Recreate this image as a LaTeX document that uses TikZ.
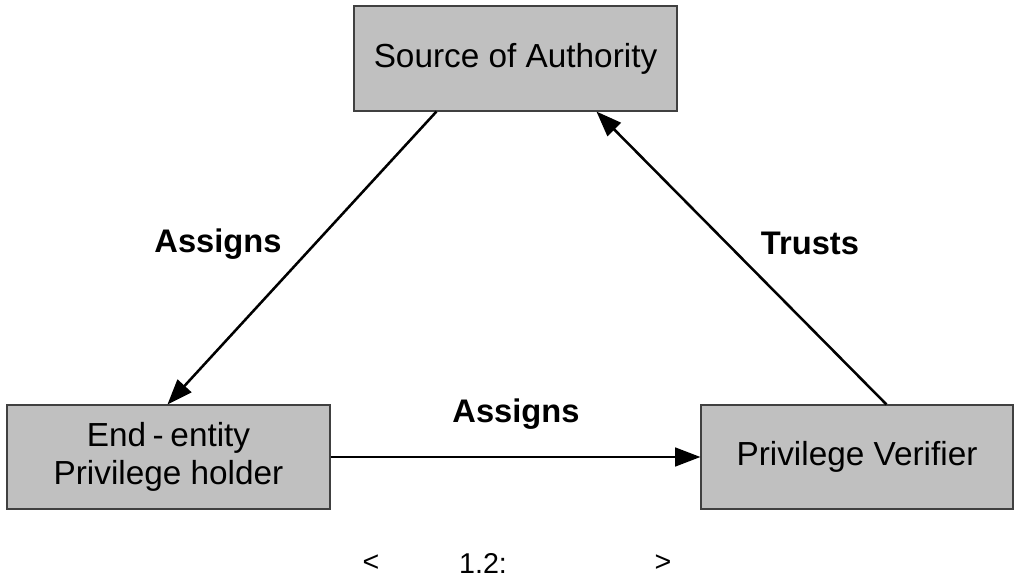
\documentclass[tikz,border=0pt]{standalone}
\usepackage{fontspec}
\setmainfont{Liberation Sans}
\usetikzlibrary{arrows.meta,calc}
\definecolor{boxgray}{HTML}{C0C0C0}
\definecolor{boxline}{HTML}{404040}
\tikzset{
  entity/.style={draw=boxline, line width=0.8pt, fill=boxgray, inner sep=0pt,
    align=center, font=\fontsize{25}{29}\selectfont},
  link/.style={line width=1.9pt, -{Triangle[length=19pt,width=14pt]}},
  relation/.style={font=\fontsize{24.5}{28}\selectfont\bfseries},
  caption/.style={font=\fontsize{21.5}{25}\selectfont}
}
\begin{document}
\begin{tikzpicture}[x=0.75pt,y=-0.75pt]
  \useasboundingbox (0,0) rectangle (1015,578);
  % parties
  \node[entity, minimum width=323*0.75pt, minimum height=105*0.75pt] (src) at (515.5,58.5) {Source of Authority};
  \node[entity, minimum width=323*0.75pt, minimum height=104*0.75pt] (holder) at (168.5,457) {End\hspace{0.2em}-\hspace{0.2em}entity\\Privilege holder};
  \node[entity, minimum width=312*0.75pt, minimum height=104*0.75pt] (verifier) at (857,457) {Privilege Verifier};
  % attachment points
  \coordinate (srcL) at ($(src.south west)+(83,0)$);
  \coordinate (srcR) at ($(src.south west)+(243,0)$);
  \coordinate (holderT) at ($(holder.north west)+(161,0)$);
  \coordinate (verT) at ($(verifier.north west)+(186,0)$);
  % relations
  \draw[link] (srcL) -- (holderT);
  \draw[link] (verT) -- (srcR);
  \draw[link] (holder.east) -- (verifier.west);
  \node[relation] (l1) at (218,244) {Assigns};
  \node[relation] (l2) at (810,243) {Trusts};
  \node[relation] (l3) at (516,414) {Assigns};
  % caption
  \node[caption] (c1) at (371,563) {<};
  \node[caption] (c2) at (483,563) {1.2:};
  \node[caption] (c3) at (663,563) {>};
\end{tikzpicture}
\end{document}
